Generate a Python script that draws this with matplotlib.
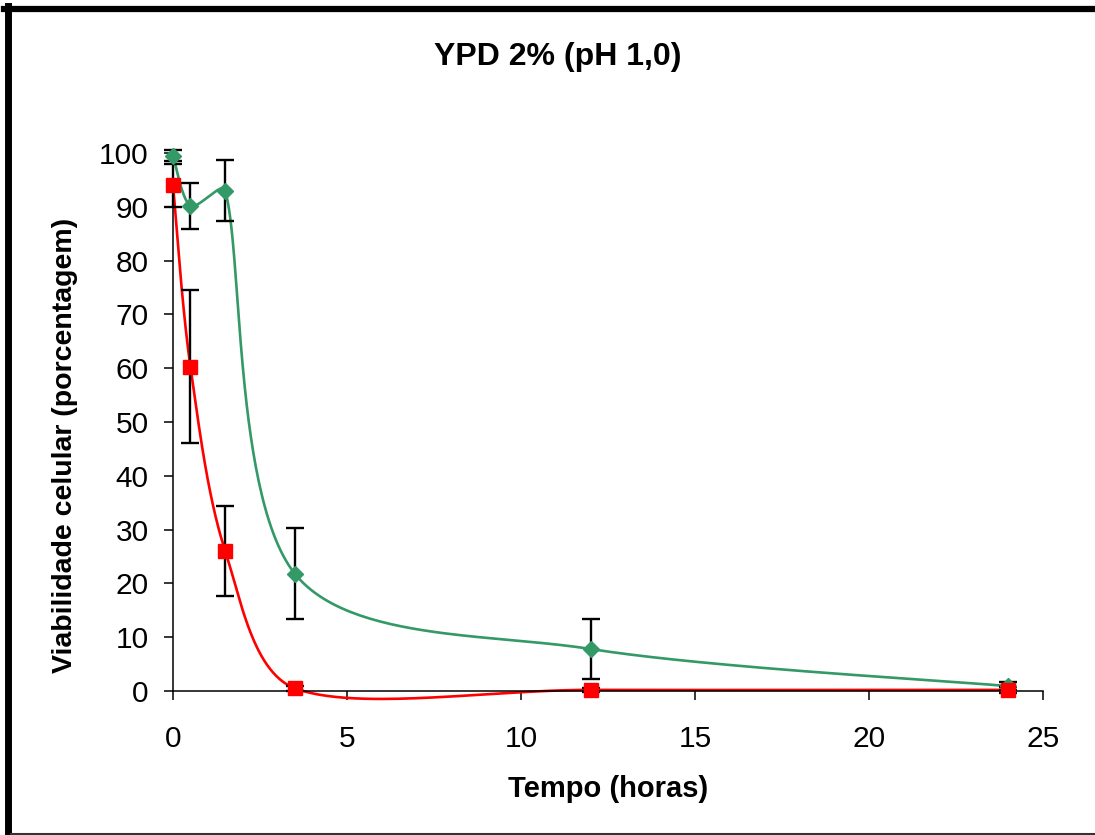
import numpy as np
import matplotlib
matplotlib.use("Agg")
from matplotlib import pyplot as plt
from matplotlib.lines import Line2D

plt.rcParams['font.family'] = ['Liberation Sans', 'DejaVu Sans']

# data
tempo = [0, 0.5, 1.5, 3.5, 12, 24]
verde = [99.5, 90.2, 93.0, 21.8, 7.8, 0.9]
verde_err = [1.0, 4.3, 5.7, 8.5, 5.6, 0.7]
vermelho = [94.0, 60.3, 26.0, 0.5, 0.2, 0.2]
vermelho_err = [4.0, 14.2, 8.4, 0.5, 0.3, 0.5]
xticks = [0, 5, 10, 15, 20, 25]
yticks = [0, 10, 20, 30, 40, 50, 60, 70, 80, 90, 100]

VERDE = '#339966'
VERMELHO = '#ff0000'

W, H = 1095, 835
AX = [0.158, 0.1725, 0.7945, 0.6443]
# pixels per data unit, the smoothing is done in screen space like excel
KX = AX[2] * W / 25
KY = AX[3] * H / 100


def smooth(x, y, n=60):
    # catmull-rom bezier (1/6), tangent shrunk when the next segment is much longer
    p = np.column_stack([np.asarray(x, float) * KX, np.asarray(y, float) * KY])
    pts = []
    for i in range(len(p) - 1):
        p0 = p[i - 1] if i > 0 else p[i]
        p1 = p[i]
        p2 = p[i + 1]
        p3 = p[i + 2] if i + 2 < len(p) else p[i + 1]
        d01 = np.hypot(*(p1 - p0))
        d12 = np.hypot(*(p2 - p1))
        d23 = np.hypot(*(p3 - p2))
        f1 = min(1.0, 2 * d12 / (d01 + d12))
        f2 = min(1.0, 2 * d12 / (d12 + d23))
        c1 = p1 + (p2 - p0) * f1 / 6
        c2 = p2 - (p3 - p1) * f2 / 6
        t = np.linspace(0, 1, n)[:, None]
        seg = (1 - t)**3 * p1 + 3 * (1 - t)**2 * t * c1 + 3 * (1 - t) * t**2 * c2 + t**3 * p2
        pts.append(seg if i == 0 else seg[1:])
    pts = np.vstack(pts)
    return pts[:, 0] / KX, pts[:, 1] / KY


fig = plt.figure(figsize=(W / 100, H / 100), dpi=100)
ax = fig.add_axes(AX)

for ys, err, col, mk, ms in [(verde, verde_err, VERDE, 'D', 8.6),
                             (vermelho, vermelho_err, VERMELHO, 's', 10)]:
    sx, sy = smooth(tempo, ys)
    ax.plot(sx, sy, color=col, lw=1.9, clip_on=False, zorder=2)
    ax.errorbar(tempo, ys, yerr=err, fmt='none', ecolor='black', elinewidth=1.7,
                capsize=6.5, capthick=1.7, clip_on=False, zorder=3)
    ax.plot(tempo, ys, ls='none', marker=mk, ms=ms, color=col, mec=col,
            clip_on=False, zorder=4)

ax.set_xlim(0, 25)
ax.set_ylim(0, 100)
ax.set_xticks(xticks)
ax.set_yticks(yticks)
ax.spines['top'].set_visible(False)
ax.spines['right'].set_visible(False)
for s in ['left', 'bottom']:
    ax.spines[s].set_linewidth(1.1)
ax.tick_params(axis='both', direction='out', length=6.5, width=1.1, labelsize=21.5)
ax.tick_params(axis='x', pad=18)
ax.tick_params(axis='y', pad=11)

ax.set_xlabel('Tempo (horas)', fontsize=21, fontweight='bold', labelpad=16)
ax.set_ylabel('Viabilidade celular (porcentagem)', fontsize=20.5, fontweight='bold')
ax.yaxis.set_label_coords(-0.109, 0.457)
fig.text(0.509, 0.932, 'YPD 2% (pH 1,0)', fontsize=23, fontweight='bold',
         ha='center', va='center')

# frame around the chart
fig.add_artist(Line2D([4 / W, 1], [1 - 9 / H] * 2, color='black', lw=4.5))
fig.add_artist(Line2D([7.5 / W] * 2, [0, 1 - 6 / H], color='black', lw=5))
fig.add_artist(Line2D([11 / W, 1], [1.5 / H] * 2, color='#333333', lw=1.5))

fig.savefig('out.png', dpi=100)
